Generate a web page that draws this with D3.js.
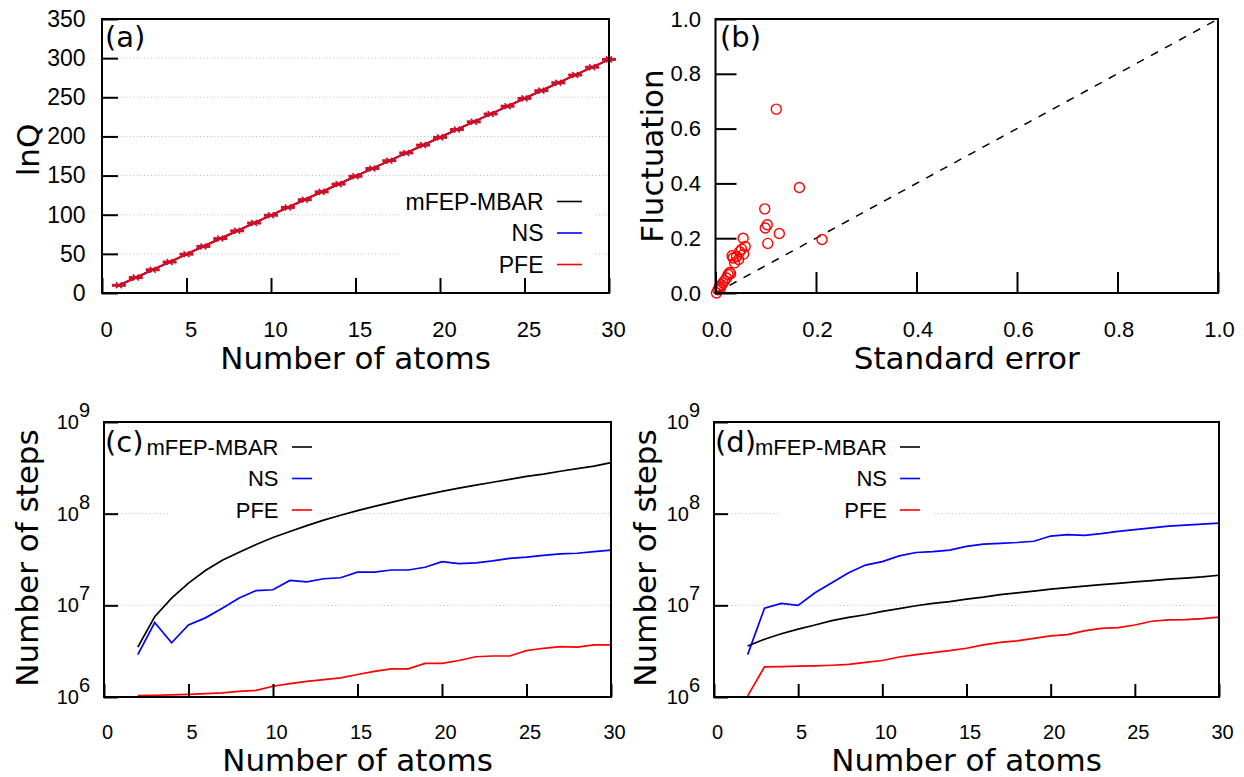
<!DOCTYPE html>
<html>
<head>
<meta charset="utf-8">
<script src="https://cdn.jsdelivr.net/npm/d3@7"></script>
<style>
body { margin: 0; background: #fff; }
</style>
</head>
<body>
<div id="chart"></div>
<script>
// panel (a): lnQ against number of atoms
var atomsA = [1,2,3,4,5,6,7,8,9,10,11,12,13,14,15,16,17,18,19,20,21,22,23,24,25,26,27,28,29,30];
var lnqMbar = [9.8,19.7,29.6,39.6,49.5,59.5,69.4,79.4,89.3,99.3,109.2,119.2,129.1,139.1,149.0,159.0,168.9,178.9,188.8,198.8,208.7,218.7,228.6,238.6,248.5,258.5,268.4,278.4,288.3,298.3];
var lnqNs   = [9.8,19.7,29.7,39.6,49.6,59.5,69.5,79.4,89.4,99.3,109.3,119.2,129.2,139.1,149.1,159.0,169.0,178.9,188.9,198.8,208.8,218.7,228.7,238.6,248.6,258.5,268.5,278.4,288.4,298.3];
var lnqPfe  = [9.8,19.7,29.7,39.6,49.6,59.5,69.5,79.4,89.4,99.3,109.3,119.2,129.2,139.1,149.1,159.0,169.0,178.9,188.9,198.8,208.8,218.7,228.7,238.6,248.6,258.5,268.5,278.4,288.4,298.4];

// panel (b): fluctuation against standard error
var stdError    = [0.121,0.167,0.098,0.103,0.099,0.127,0.104,0.212,0.055,0.059,0.056,0.048,0.042,0.035,0.038,0.046,0.033,0.052,0.030,0.028,0.025,0.022,0.018,0.015,0.012,0.010,0.008,0.005,0.002];
var fluctuation = [0.671,0.385,0.307,0.249,0.237,0.217,0.181,0.195,0.200,0.170,0.142,0.151,0.133,0.128,0.110,0.122,0.136,0.160,0.070,0.075,0.067,0.055,0.045,0.037,0.030,0.018,0.024,0.012,0.000];
var diagonal = [0, 1];

// panels (c) and (d): number of steps against number of atoms
var atomsCD = [2,3,4,5,6,7,8,9,10,11,12,13,14,15,16,17,18,19,20,21,22,23,24,25,26,27,28,29,30];
var stepsCMbar = [3.5e6,7.5e6,1.2e7,1.75e7,2.4e7,3.1e7,3.8e7,4.6e7,5.5e7,6.4e7,7.4e7,8.5e7,9.6e7,1.08e8,1.2e8,1.33e8,1.47e8,1.6e8,1.75e8,1.9e8,2.05e8,2.2e8,2.37e8,2.55e8,2.7e8,2.9e8,3.1e8,3.3e8,3.6e8];
var stepsCNs   = [2.9e6,6.5e6,3.9e6,6.1e6,7.3e6,9.3e6,1.2e7,1.45e7,1.48e7,1.87e7,1.8e7,1.95e7,2.0e7,2.3e7,2.3e7,2.43e7,2.43e7,2.6e7,3.0e7,2.85e7,2.9e7,3.05e7,3.25e7,3.35e7,3.5e7,3.65e7,3.7e7,3.85e7,4.0e7];
var stepsCPfe  = [1.035e6,1.045e6,1.055e6,1.07e6,1.09e6,1.11e6,1.15e6,1.18e6,1.31e6,1.4e6,1.48e6,1.55e6,1.62e6,1.76e6,1.9e6,2.03e6,2.03e6,2.33e6,2.33e6,2.5e6,2.75e6,2.8e6,2.8e6,3.2e6,3.4e6,3.55e6,3.5e6,3.7e6,3.7e6];
var stepsDMbar = [3.6e6,4.27e6,4.9e6,5.5e6,6.1e6,6.8e6,7.4e6,7.9e6,8.6e6,9.2e6,9.9e6,1.05e7,1.1e7,1.17e7,1.23e7,1.31e7,1.37e7,1.43e7,1.5e7,1.56e7,1.62e7,1.68e7,1.74e7,1.8e7,1.86e7,1.93e7,1.98e7,2.04e7,2.13e7];
var stepsDNs   = [2.9e6,9.3e6,1.05e7,1.0e7,1.37e7,1.76e7,2.27e7,2.75e7,3.0e7,3.46e7,3.77e7,3.85e7,4.0e7,4.4e7,4.65e7,4.75e7,4.85e7,5.0e7,5.7e7,5.9e7,5.8e7,6.05e7,6.4e7,6.7e7,7.0e7,7.3e7,7.5e7,7.7e7,7.9e7];
var stepsDPfe  = [1.03e6,2.13e6,2.15e6,2.17e6,2.19e6,2.22e6,2.27e6,2.39e6,2.5e6,2.73e6,2.9e6,3.05e6,3.2e6,3.4e6,3.7e6,3.95e6,4.1e6,4.37e6,4.65e6,4.8e6,5.27e6,5.6e6,5.7e6,6.1e6,6.7e6,6.95e6,7.0e6,7.15e6,7.45e6];

var seriesNames = ["mFEP-MBAR", "NS", "PFE"];
var seriesColors = ["#000000", "#0000ff", "#ff0000"];
var atomTicks = [0,5,10,15,20,25,30];
var lnqTicks = [0,50,100,150,200,250,300,350];
var unitTicks = [0,0.2,0.4,0.6,0.8,1.0];
var stepTicks = [1e6,1e7,1e8,1e9];

var tickFont = "'Liberation Sans', Arial, sans-serif";
var titleFont = "'DejaVu Sans', Verdana, sans-serif";

var svg = d3.select("#chart")
    .append("svg")
    .attr("width", 1244)
    .attr("height", 777);

var boxA = {left: 102, right: 609, top: 19, bottom: 293};
var boxB = {left: 715.5, right: 1218, top: 19, bottom: 293};
var boxC = {left: 104, right: 611, top: 422, bottom: 697};
var boxD = {left: 714, right: 1219, top: 422, bottom: 697};

function frame(b) {
  svg.append("rect")
    .attr("x", b.left).attr("y", b.top)
    .attr("width", b.right - b.left).attr("height", b.bottom - b.top)
    .attr("fill", "none").attr("stroke", "#000").attr("stroke-width", 2);
}

function grid(b, y, ticks) {
  svg.append("g").selectAll("line")
    .data(ticks.slice(1, -1))
    .enter().append("line")
    .attr("x1", b.left).attr("x2", b.right)
    .attr("y1", d => y(d)).attr("y2", d => y(d))
    .attr("stroke", "#b8b8b8").attr("stroke-width", 1)
    .attr("stroke-dasharray", "1,2.5");
}

function xAxis(b, x, ticks, fmt, len, fs, pad, shift) {
  var g = svg.append("g")
    .attr("transform", `translate(0,${b.bottom})`)
    .call(d3.axisBottom(x).tickValues(ticks).tickFormat(fmt)
      .tickSize(-len).tickSizeOuter(0).tickPadding(pad));
  g.select(".domain").remove();
  g.selectAll(".tick line").attr("stroke", "#000").attr("stroke-width", 2);
  g.selectAll(".tick text")
    .attr("font-family", tickFont).attr("font-size", fs)
    .attr("fill", "#000").attr("dx", shift);
  return g;
}

function yAxis(b, y, ticks, fmt, len, fs, pad) {
  var g = svg.append("g")
    .attr("transform", `translate(${b.left},0)`)
    .call(d3.axisLeft(y).tickValues(ticks).tickFormat(fmt)
      .tickSize(-len).tickSizeOuter(0).tickPadding(pad));
  g.select(".domain").remove();
  g.selectAll(".tick line").attr("stroke", "#000").attr("stroke-width", 2);
  g.selectAll(".tick text")
    .attr("font-family", tickFont).attr("font-size", fs).attr("fill", "#000");
  return g;
}

function xTitle(b, label, yy) {
  svg.append("text")
    .attr("x", (b.left + b.right) / 2).attr("y", yy)
    .attr("text-anchor", "middle")
    .attr("font-family", titleFont).attr("font-size", 31)
    .text(label);
}

function yTitle(xx, yy, label) {
  svg.append("text")
    .attr("transform", `translate(${xx},${yy}) rotate(-90)`)
    .attr("text-anchor", "middle")
    .attr("font-family", titleFont).attr("font-size", 31)
    .text(label);
}

function panelLabel(xx, yy, label) {
  svg.append("text")
    .attr("x", xx).attr("y", yy)
    .attr("font-family", titleFont).attr("font-size", 29)
    .text(label);
}

function legend(opt) {
  svg.append("rect")
    .attr("x", opt.boxX1).attr("y", opt.boxY1)
    .attr("width", opt.boxX2 - opt.boxX1).attr("height", opt.boxY2 - opt.boxY1)
    .attr("fill", "#fff");
  seriesNames.forEach(function(name, i) {
    var yy = opt.y0 + i * opt.dy;
    svg.append("text")
      .attr("x", opt.textEnd).attr("y", yy).attr("dy", "0.36em")
      .attr("text-anchor", "end")
      .attr("font-family", tickFont).attr("font-size", opt.fs)
      .text(name);
    svg.append("line")
      .attr("x1", opt.s1).attr("x2", opt.s2).attr("y1", yy).attr("y2", yy)
      .attr("stroke", seriesColors[i]).attr("stroke-width", 1.6);
  });
}

// ---------- (a) ----------
var xA = d3.scaleLinear().domain([0, 30]).range([boxA.left, boxA.right]);
var yA = d3.scaleLinear().domain([0, 350]).range([boxA.bottom, boxA.top]);
grid(boxA, yA, lnqTicks);
legend({textEnd: 543.5, y0: 201.5, dy: 31.5, s1: 557, s2: 582, fs: 23,
        boxX1: 400, boxX2: 595, boxY1: 186, boxY2: 279});

[lnqMbar, lnqNs, lnqPfe].forEach(function(vals, i) {
  var pts = atomsA.map((n, j) => [n, vals[j]]);
  svg.append("path")
    .datum(pts)
    .attr("fill", "none")
    .attr("stroke", seriesColors[i])
    .attr("stroke-width", 1.8)
    .attr("d", d3.line().x(d => xA(d[0])).y(d => yA(d[1])));
});
// small horizontal markers at each PFE point
svg.append("g").selectAll("line")
  .data(atomsA.map((n, j) => [n, lnqPfe[j]]))
  .enter().append("line")
  .attr("x1", d => xA(d[0]) - 7).attr("x2", d => xA(d[0]) + 7)
  .attr("y1", d => yA(d[1])).attr("y2", d => yA(d[1]))
  .attr("stroke", "#d0102a").attr("stroke-width", 3);
svg.append("g").selectAll("path")
  .data(atomsA.map((n, j) => [n, lnqPfe[j]]))
  .enter().append("path")
  .attr("d", d => {
    var cx = xA(d[0]), cy = yA(d[1]);
    return `M${cx-3},${cy-3}L${cx+3},${cy+3}M${cx-3},${cy+3}L${cx+3},${cy-3}`;
  })
  .attr("stroke", "#c0102a").attr("stroke-width", 1.5);

frame(boxA);
xAxis(boxA, xA, atomTicks, d3.format("d"), 15, 22, 28, 4);
yAxis(boxA, yA, lnqTicks, d3.format("d"), 16, 23, 16.5);
xTitle(boxA, "Number of atoms", 369);
yTitle(39, 150, "lnQ");
panelLabel(105, 47, "(a)");

// ---------- (b) ----------
var xB = d3.scaleLinear().domain([0, 1]).range([boxB.left, boxB.right]);
var yB = d3.scaleLinear().domain([0, 1]).range([boxB.bottom, boxB.top]);
svg.append("path")
  .datum(diagonal)
  .attr("fill", "none")
  .attr("stroke", "#000")
  .attr("stroke-width", 1.5)
  .attr("stroke-dasharray", "8,8")
  .attr("d", d3.line().x(d => xB(d)).y(d => yB(d)));
svg.append("g").selectAll("circle")
  .data(stdError.map((s, j) => [s, fluctuation[j]]))
  .enter().append("circle")
  .attr("cx", d => xB(d[0]))
  .attr("cy", d => yB(d[1]))
  .attr("r", 5)
  .attr("fill", "none")
  .attr("stroke", "#ff0000")
  .attr("stroke-width", 1.4);
frame(boxB);
xAxis(boxB, xB, unitTicks, d3.format(".1f"), 21, 22, 28, 1);
yAxis(boxB, yB, unitTicks, d3.format(".1f"), 21, 22, 14.5);
xTitle(boxB, "Standard error", 369);
yTitle(663, 156, "Fluctuation");
panelLabel(720, 47, "(b)");

// ---------- (c) and (d) ----------
function stepsPanel(b, series, tag, legendOpt, titleX) {
  var x = d3.scaleLinear().domain([0, 30]).range([b.left, b.right]);
  var y = d3.scaleLog().domain([1e6, 1e9]).range([b.bottom, b.top]);
  grid(b, y, stepTicks);
  legend(legendOpt);
  series.forEach(function(vals, i) {
    svg.append("path")
      .datum(atomsCD.map((n, j) => [n, vals[j]]))
      .attr("fill", "none")
      .attr("stroke", seriesColors[i])
      .attr("stroke-width", 1.7)
      .attr("d", d3.line().x(d => x(d[0])).y(d => y(d[1])));
  });
  frame(b);
  xAxis(b, x, atomTicks, d3.format("d"), 13, 20, 28, 3);
  var g = yAxis(b, y, stepTicks, d => "", 14, 20, 14);
  g.selectAll(".tick text").each(function(d) {
    var t = d3.select(this);
    t.text("10");
    t.append("tspan").attr("dy", "-0.6em").text(Math.round(Math.log10(d)));
  });
  xTitle(b, "Number of atoms", 771);
  yTitle(titleX, 558, "Number of steps");
  panelLabel(tag.x, 452, tag.label);
}

stepsPanel(boxC, [stepsCMbar, stepsCNs, stepsCPfe], {x: 105, label: "(c)"},
  {textEnd: 278.5, y0: 447, dy: 31.5, s1: 292, s2: 312, fs: 22,
   boxX1: 168, boxX2: 316, boxY1: 432, boxY2: 524}, 38);
stepsPanel(boxD, [stepsDMbar, stepsDNs, stepsDPfe], {x: 715, label: "(d)"},
  {textEnd: 887, y0: 447, dy: 31.5, s1: 900, s2: 920, fs: 22,
   boxX1: 778, boxX2: 932, boxY1: 432, boxY2: 524}, 656);
</script>
</body>
</html>
